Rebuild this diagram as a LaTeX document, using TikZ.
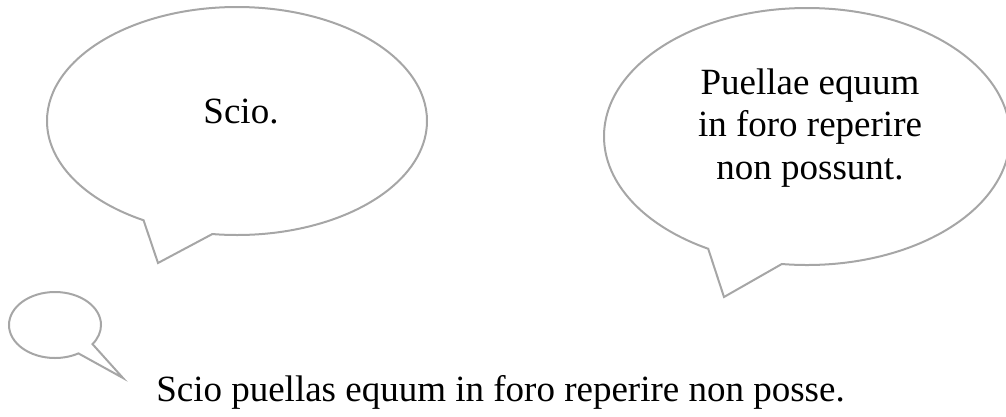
\documentclass[tikz,border=0pt]{standalone}
\usepackage{fontspec}
\setmainfont{Liberation Serif}
\usetikzlibrary{shapes.callouts}

\begin{document}
\begin{tikzpicture}[
  x=1pt, y=-1pt,
  bubble/.style={ellipse callout, draw=black!35, line width=2pt,
    inner sep=0pt, callout pointer arc=22},
  say/.style={font=\fontsize{37}{42.5}\selectfont, inner sep=0pt, align=center}]

  \useasboundingbox (0,0) rectangle (1006,416);
  \clip (0,0) rectangle (1006,416);

  % speech bubbles
  \node[bubble, minimum width=380pt, minimum height=228pt,
    callout absolute pointer={(158,263)}] (scio) at (237,121) {};
  \node[say, anchor=base] (scio text) at (241,123) {Scio.};

  \node[bubble, minimum width=406pt, minimum height=257pt,
    callout absolute pointer={(724,297)}] (puellae) at (807,136.5) {};
  \node[say] (puellae text) at (810,128) {Puellae equum\\in foro reperire\\non possunt.};

  % small thought bubble
  \node[bubble, minimum width=92pt, minimum height=66pt, callout pointer arc=24,
    callout absolute pointer={(123,378)}] (thought) at (55,325) {};

  \node[say, anchor=base] (sentence) at (500.5,401) {Scio puellas equum in foro reperire non posse.};
\end{tikzpicture}
\end{document}
